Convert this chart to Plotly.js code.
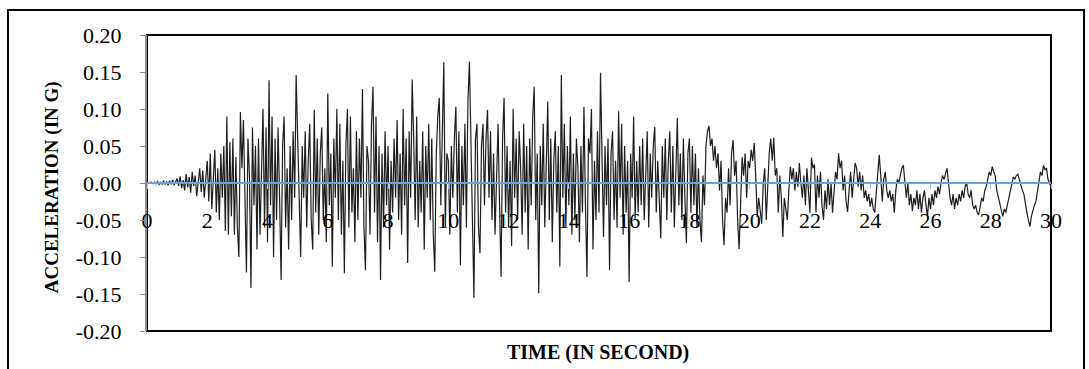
<!DOCTYPE html>
<html>
<head>
<meta charset="utf-8">
<script src="https://cdn.plot.ly/plotly-3.0.1.min.js"></script>
<style>
html,body{margin:0;padding:0;background:#fff;}
#wrap{position:relative;width:1089px;height:369px;overflow:hidden;}
#chart{width:1089px;height:369px;}
#frame{position:absolute;left:7px;top:9px;width:1074px;height:380px;border:2px solid #000;pointer-events:none;}
</style>
</head>
<body>
<div id="wrap"><div id="chart"></div><div id="frame"></div></div>
<script>
// Sampling of the record (seconds)
var startTime = 0;
var timeStep = 0.05;

// Acceleration (g), one array per second of record, 20 samples each
var acc00 = [0,0,0,0.001,-0.001,0.001,-0.001,0.002,-0.002,0.001,-0.002,0.003,-0.002,0.002,-0.003,0.003,-0.002,0.004,-0.003,0.002];
var acc01 = [0.006,-0.004,0.009,-0.007,0.004,-0.01,0.012,-0.006,0.008,-0.013,0.015,-0.004,0.01,-0.018,0.006,0.02,-0.012,0.017,-0.02,0.012];
var acc02 = [0.03,-0.025,0.04,-0.035,0.01,0.045,-0.04,0.02,-0.05,0.04,-0.02,0.05,-0.065,0.09,-0.07,0.055,-0.045,0.06,-0.07,0.035];
var acc03 = [-0.06,-0.10,0.096,0.02,0.085,-0.05,-0.121,0.06,0.01,-0.142,0.075,-0.03,0.05,-0.09,0.06,-0.07,0.04,0.1,-0.06,0.075];
var acc04 = [-0.08,0.139,-0.03,0.09,-0.1,0.06,-0.05,0.075,-0.02,-0.131,0.05,0.09,-0.06,0.02,-0.09,0.05,-0.05,0.07,-0.02,0.146];
var acc05 = [0.06,-0.03,-0.1,0.05,-0.02,0.07,-0.06,0.03,0.08,-0.05,-0.09,0.099,-0.04,0.06,-0.07,0.04,0.075,-0.05,0.02,-0.08];
var acc06 = [0.121,-0.03,0.04,-0.113,0.06,-0.02,0.1,-0.05,0.08,-0.07,0.03,-0.122,0.05,0.1,-0.06,0.09,-0.04,0.02,-0.08,0.07];
var acc07 = [-0.05,0.06,-0.02,0.127,-0.06,-0.118,0.05,0.03,-0.07,0.08,0.13,-0.04,0.09,-0.08,0.05,-0.131,0.04,-0.06,0.07,-0.03];
var acc08 = [0.05,-0.09,0.03,-0.04,0.06,-0.02,0.085,-0.05,0.04,-0.07,0.1,-0.03,0.06,-0.108,0.07,-0.02,0.14,0.06,-0.05,0.09];
var acc09 = [-0.06,0.03,-0.04,0.07,-0.09,0.05,-0.02,0.08,-0.05,0.06,-0.07,-0.12,0.04,0.09,0.115,-0.03,0.05,0.163,-0.06,0.04];
var acc10 = [0.03,-0.07,0.05,-0.02,0.06,0.103,-0.04,0.07,-0.111,0.05,-0.03,0.08,-0.06,0.11,0.164,0.03,-0.05,-0.155,0.06,0.08];
var acc11 = [-0.06,-0.095,0.05,0.08,-0.03,0.06,0.099,-0.02,0.07,-0.05,0.04,-0.07,0.03,0.08,-0.03,-0.127,0.06,0.115,-0.04,0.05];
var acc12 = [-0.06,0.03,-0.085,0.1,-0.02,0.06,-0.05,0.07,0.02,-0.07,0.08,-0.04,0.05,-0.09,0.06,-0.03,0.09,0.13,-0.05,0.04];
var acc13 = [-0.149,0.05,-0.03,0.08,-0.06,0.04,0.11,-0.05,0.06,-0.08,0.03,0.07,-0.04,0.05,-0.113,0.146,-0.02,0.08,-0.06,0.05];
var acc14 = [-0.03,0.09,-0.07,0.04,-0.05,0.06,0.02,-0.08,0.05,-0.04,0.103,-0.03,-0.127,0.06,0.04,0.1,-0.09,0.03,-0.05,0.07];
var acc15 = [-0.04,0.149,0.02,-0.073,0.05,-0.03,0.06,-0.118,0.04,0.07,-0.05,0.03,-0.06,0.097,-0.02,0.08,-0.07,0.05,-0.04,0.03];
var acc16 = [-0.134,0.04,-0.02,0.09,-0.05,0.03,-0.04,0.05,-0.03,0.06,-0.05,0.02,0.07,-0.06,0.04,-0.02,0.05,0.076,-0.04,0.03];
var acc17 = [-0.03,-0.075,0.05,-0.02,0.06,-0.05,0.03,0.07,-0.04,0.05,-0.06,0.02,0.088,-0.03,0.04,-0.05,0.06,-0.02,-0.081,0.04];
var acc18 = [0.06,-0.04,0.05,-0.03,0.04,-0.06,0.02,-0.05,-0.08,0.01,-0.03,0.05,0.07,0.077,0.05,0.06,0.03,0.05,0.02,0.04];
var acc19 = [-0.01,0.03,-0.05,-0.084,-0.02,-0.04,0.02,-0.03,0.04,0.058,0.01,0.03,-0.05,-0.089,-0.01,0.035,0.01,0.04,-0.02,0.03];
var acc20 = [0.02,0.045,0.03,0.054,0.01,-0.046,-0.02,-0.04,-0.055,0.0,0.02,-0.05,0.01,0.04,0.06,0.03,0.061,0.01,0.02,-0.04];
var acc21 = [0.01,-0.02,-0.073,-0.02,-0.035,-0.05,-0.01,0.022,0.005,0.02,-0.01,0.015,-0.005,0.027,0.0,-0.02,0.01,-0.03,0.02,-0.01];
var acc22 = [-0.04,0.034,0.02,0.025,-0.04,0.01,-0.02,0.015,-0.03,-0.05,-0.01,-0.035,0.005,-0.03,0.0,-0.04,-0.01,0.015,0.005,0.04];
var acc23 = [0.02,0.03,-0.01,0.01,-0.025,-0.039,-0.01,0.015,-0.02,0.01,0.027,0.02,-0.005,0.015,-0.01,0.01,-0.02,-0.01,-0.025,-0.015];
var acc24 = [-0.032,-0.02,-0.035,-0.04,-0.01,0.01,0.038,0.01,-0.025,0.005,0.015,-0.01,-0.02,-0.01,-0.025,-0.015,-0.04,-0.01,0.005,0.0];
var acc25 = [0.01,0.02,0.024,0.005,-0.02,0.0,-0.03,-0.015,-0.038,-0.02,-0.03,-0.01,-0.035,-0.015,-0.04,-0.02,-0.01,-0.03,-0.045,-0.02];
var acc26 = [-0.035,-0.015,-0.03,-0.01,-0.02,-0.005,-0.015,0.0,0.01,0.005,0.015,0.02,0.0,-0.02,-0.03,-0.015,-0.035,-0.02,-0.03,-0.015];
var acc27 = [-0.025,-0.01,-0.02,-0.005,0.0,-0.015,-0.02,-0.01,-0.03,-0.035,-0.03,-0.04,-0.043,-0.03,-0.02,-0.025,-0.01,-0.005,0.005,0.015];
var acc28 = [0.01,0.022,0.015,0.01,-0.01,-0.02,-0.03,-0.04,-0.045,-0.035,-0.04,-0.03,-0.02,-0.01,0.0,0.008,0.005,0.01,0.012,0.005];
var acc29 = [-0.005,-0.01,-0.015,-0.03,-0.04,-0.05,-0.059,-0.045,-0.035,-0.03,-0.025,-0.01,0.005,0.015,0.01,0.024,0.018,0.02,0.005,0.0];
var acc30 = [-0.005];

// Axis ticks
var yTickVals = [-0.20,-0.15,-0.10,-0.05,0.00,0.05,0.10,0.15,0.20];
var yTickText = ["-0.20","-0.15","-0.10","-0.05","0.00","0.05","0.10","0.15","0.20"];
var xTickVals = [0,2,4,6,8,10,12,14,16,18,20,22,24,26,28,30];
var xTickText = ["0","2","4","6","8","10","12","14","16","18","20","22","24","26","28","30"];

var accel = [].concat(acc00,acc01,acc02,acc03,acc04,acc05,acc06,acc07,acc08,acc09,
  acc10,acc11,acc12,acc13,acc14,acc15,acc16,acc17,acc18,acc19,
  acc20,acc21,acc22,acc23,acc24,acc25,acc26,acc27,acc28,acc29,acc30);

var serif = "'Liberation Serif','Times New Roman',serif";

var trace = {
  type: 'scatter', mode: 'lines',
  y: accel, x0: startTime, dx: timeStep,
  line: {color: '#1e1e1e', width: 1.2},
  hoverinfo: 'skip', showlegend: false
};

var layout = {
  width: 1089, height: 369,
  margin: {l: 147, r: 38, t: 35, b: 38},
  paper_bgcolor: '#fff', plot_bgcolor: '#fff',
  showlegend: false,
  xaxis: {
    range: [0, 30], anchor: 'free', position: 0.5,
    showline: true, linecolor: '#6d9fd8', linewidth: 2,
    ticks: 'outside', ticklen: 5, tickcolor: '#9dc0e8', tickwidth: 1,
    tickvals: xTickVals, ticktext: xTickText,
    ticklabelstandoff: 13,
    showgrid: false, zeroline: false,
    tickfont: {family: serif, size: 22, color: '#000'}
  },
  yaxis: {
    range: [-0.2, 0.2],
    showline: true, linecolor: '#8c8c8c', linewidth: 2,
    ticks: 'outside', ticklen: 5, tickcolor: '#8c8c8c', tickwidth: 1,
    tickvals: yTickVals, ticktext: yTickText,
    ticklabelstandoff: 14,
    showgrid: false, zeroline: false,
    tickfont: {family: serif, size: 22, color: '#000'}
  },
  shapes: [
    {type: 'rect', xref: 'paper', yref: 'paper', x0: 0, x1: 1, y0: 0, y1: 1,
     line: {color: '#000', width: 2}, fillcolor: 'rgba(0,0,0,0)', layer: 'below'}
  ],
  annotations: [
    {text: '<b>TIME (IN SECOND)</b>', xref: 'paper', yref: 'paper', x: 0.499, y: -0.071,
     xanchor: 'center', yanchor: 'middle', showarrow: false,
     font: {family: serif, size: 20, color: '#000'}},
    {text: '<b>ACCELERATION (IN G)</b>', xref: 'paper', yref: 'paper', x: -0.105, y: 0.486,
     xanchor: 'center', yanchor: 'middle', showarrow: false, textangle: -90,
     font: {family: serif, size: 19, color: '#000'}}
  ]
};

Plotly.newPlot('chart', [trace], layout, {displayModeBar: false, staticPlot: true});
</script>
</body>
</html>
